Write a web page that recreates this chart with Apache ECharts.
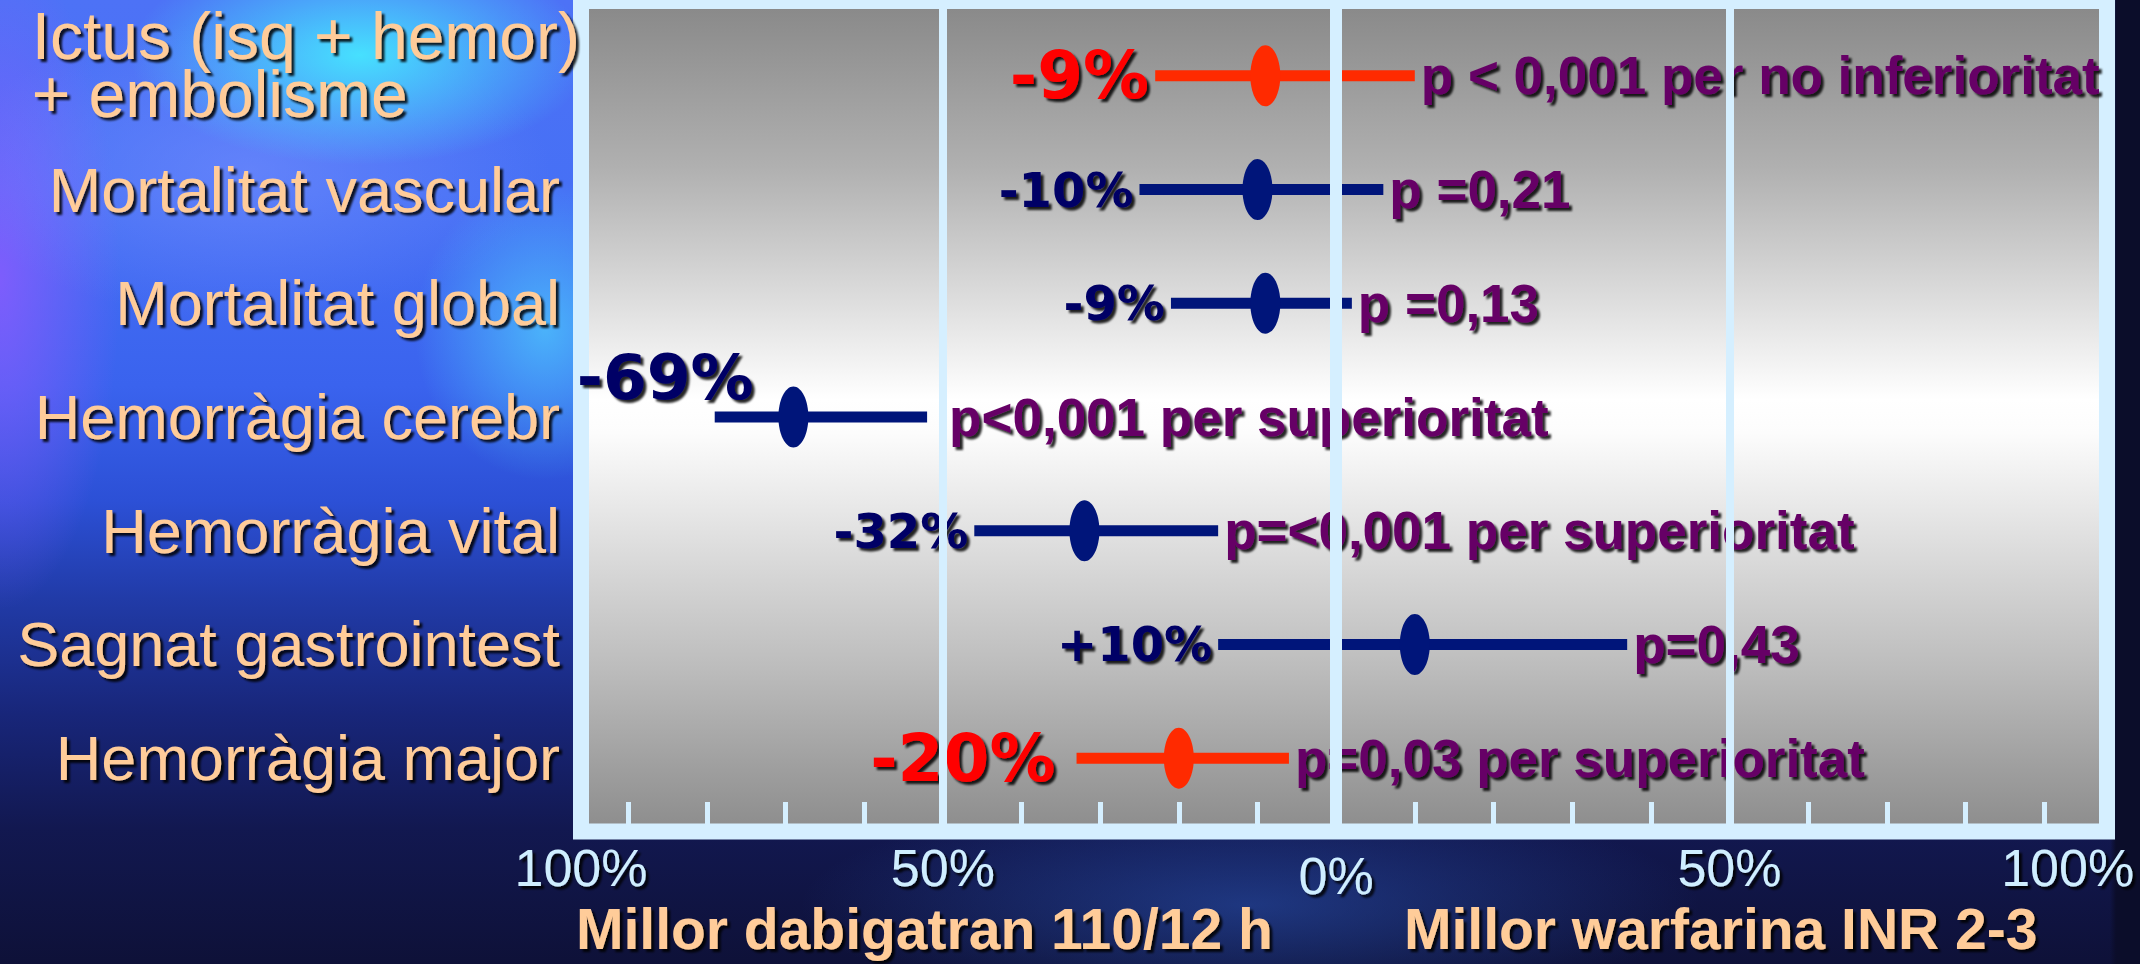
<!DOCTYPE html>
<html>
<head>
<meta charset="utf-8">
<title>Dabigatran 110/12 h vs warfarina</title>
<script src="https://cdn.jsdelivr.net/npm/echarts@6/dist/echarts.min.js"></script>
<style>
  html, body { margin: 0; padding: 0; background: #0c0f2e; }
  #chart {
    width: 2140px;
    height: 964px;
    background:
      linear-gradient(90deg, rgba(11,13,42,0) 2110px, #0b0d2a 2116px),
      radial-gradient(ellipse 230px 110px at 360px 55px, rgba(70,230,255,0.95), rgba(70,230,255,0)),
      radial-gradient(ellipse 130px 150px at 545px 330px, rgba(80,210,255,0.7), rgba(80,210,255,0)),
      radial-gradient(ellipse 300px 150px at 250px 170px, rgba(120,145,255,0.55), rgba(120,145,255,0)),
      radial-gradient(ellipse 120px 330px at 0px 280px, rgba(140,90,255,0.8), rgba(140,90,255,0)),
      radial-gradient(ellipse 450px 110px at 1250px 905px, rgba(45,90,190,0.5), rgba(45,90,190,0)),
      linear-gradient(180deg, #4d72f6 0%, #4670f5 20%, #3a63ee 40%, #2c50d6 52%, #213ba8 62%, #18267a 74%, #121850 86%, #0e1138 100%);
  }
</style>
</head>
<body>
<div id="chart"></div>
<script>
// Outcomes, listed top to bottom
const categories = [
  'Ictus (isq + hemor)\n+ embolisme',
  'Mortalitat vascular',
  'Mortalitat global',
  'Hemorràgia cerebr',
  'Hemorràgia vital',
  'Sagnat gastrointest',
  'Hemorràgia major'
];
// Relative change in risk (%), dabigatran 110/12 h vs warfarina; negative favours dabigatran
const change = [-9, -10, -9, -69, -32, 10, -20];
// Confidence interval bounds (%)
const ciLow = [-23, -25, -21, -79, -46, -15, -33];
const ciHigh = [10, 6, 2, -52, -15, 37, -6];
const pValues = [
  'p < 0,001 per no inferioritat',
  'p =0,21',
  'p =0,13',
  'p<0,001 per superioritat',
  'p=<0,001 per superioritat',
  'p=0,43',
  'p=0,03 per superioritat'
];
// Main efficacy / safety endpoints, highlighted
const primary = [true, false, false, false, false, false, true];

// Horizontal scale
const axisMin = -96;
const axisMax = 98;
const scaleLabelAt = [-96, -50, 0, 50, 93];
const tickLabels = ['100%', '50%', '0%', '50%', '100%'];
const minorTicks = [-90, -80, -70, -60, -40, -30, -20, -10, 10, 20, 30, 40, 60, 70, 80, 90];
const referenceLines = [-50, 0, 50];

// ---- styling ----
const frameColor = '#d5efff';
const shadow = { textShadowColor: 'rgba(0,0,0,0.85)', textShadowOffsetX: 3, textShadowOffsetY: 3, textShadowBlur: 2 };
const labelNudge = {
  3: { pctDx: 39, pctDy: -40, pctSize: 63, pDx: 22 },
  6: { pctDx: -21 }
};

function formatChange(v) {
  return (v > 0 ? '+' : '') + v + '%';
}

function renderRow(params, api) {
  const row = api.value(0);
  const est = api.value(1);
  const c = api.coord([est, row]);
  const a = api.coord([api.value(2), row]);
  const b = api.coord([api.value(3), row]);
  const key = primary[row];
  const markColor = key ? '#ff2a00' : '#00157a';
  const n = labelNudge[row] || {};
  const pctSize = n.pctSize || (key ? 66 : 48);
  return {
    type: 'group',
    children: [
      { type: 'line', shape: { x1: a[0], y1: a[1], x2: b[0], y2: b[1] },
        style: { stroke: markColor, lineWidth: 11 } },
      { type: 'ellipse', shape: { cx: c[0], cy: c[1], rx: 15, ry: 30.5 },
        style: { fill: markColor } },
      { type: 'text', x: a[0] + (n.pctDx != null ? n.pctDx : -6), y: a[1] + (n.pctDy || 0),
        style: Object.assign({ text: formatChange(est), align: 'right', verticalAlign: 'middle',
          fill: key ? '#ff0000' : '#000066', font: 'bold ' + pctSize + 'px "DejaVu Sans"' }, shadow) },
      { type: 'text', x: b[0] + (n.pDx || 6), y: b[1],
        style: Object.assign({ text: pValues[row], align: 'left', verticalAlign: 'middle',
          fill: '#660066', font: 'bold 53px "Liberation Sans"' }, shadow) }
    ]
  };
}

const yData = categories.map((name, i) => i === 0
  ? { value: name, textStyle: { padding: [0, 0, 22, 0] } }
  : name);

const titleStyle = Object.assign({ color: '#ffcc99', fontSize: 57, fontWeight: 'bold',
  fontFamily: 'Liberation Sans', lineHeight: 48 }, shadow);

const chart = echarts.init(document.getElementById('chart'), null, { renderer: 'svg', width: 2140, height: 964 });

chart.setOption({
  animation: false,
  title: [
    { text: 'Millor dabigatran 110/12 h', left: 571, top: 900, textStyle: titleStyle },
    { text: 'Millor warfarina INR 2-3', left: 1399, top: 900, textStyle: titleStyle }
  ],
  grid: [
    { left: 581, right: 33, top: 1, bottom: 132.5, show: true, outerBoundsMode: 'none',
      backgroundColor: { type: 'linear', x: 0, y: 0, x2: 0, y2: 1, colorStops: [
        { offset: 0, color: '#888888' },
        { offset: 0.2, color: '#b0b0b0' },
        { offset: 0.48, color: '#ffffff' },
        { offset: 0.52, color: '#fcfcfc' },
        { offset: 0.8, color: '#bdbdbd' },
        { offset: 1, color: '#8c8c8c' } ] },
      borderColor: frameColor, borderWidth: 16 },
    { left: 581, right: 33, top: 19, bottom: 149, outerBoundsMode: 'none' }
  ],
  xAxis: [
    { gridIndex: 0, type: 'value', min: axisMin, max: axisMax, offset: -7.5,
      axisLine: { show: false }, splitLine: { show: false },
      axisTick: { show: true, inside: true, length: 22, customValues: minorTicks,
        lineStyle: { color: frameColor, width: 5 } },
      axisLabel: Object.assign({
        customValues: scaleLabelAt, margin: 18, color: '#cfeeff', fontSize: 52, fontFamily: 'Liberation Sans',
        formatter: v => {
          const t = tickLabels[scaleLabelAt.indexOf(v)];
          return v === 0 ? '{z|' + t + '}' : t;
        },
        rich: { z: Object.assign({ color: '#cfeeff', fontSize: 52, fontFamily: 'Liberation Sans', padding: [8, 0, 0, 0] }, shadow) }
      }, shadow) },
    { gridIndex: 1, type: 'value', min: axisMin, max: axisMax, show: false }
  ],
  yAxis: [
    { gridIndex: 1, type: 'category', data: yData, inverse: true,
      axisLine: { show: false }, axisTick: { show: false }, splitLine: { show: false },
      axisLabel: Object.assign({
        interval: 0, margin: 1, padding: [0, 20, 0, 0],
        color: '#ffcc99', fontSize: 63, fontFamily: 'Liberation Sans',
        formatter: (value, idx) => idx === 0
          ? value.split('\n').map((s, k) => '{' + (k ? 'b' : 'a') + '|' + s + '}').join('\n')
          : value,
        rich: {
          a: Object.assign({ color: '#ffcc99', fontSize: 66, fontFamily: 'Liberation Sans', lineHeight: 58, align: 'right' }, shadow),
          b: Object.assign({ color: '#ffcc99', fontSize: 66, fontFamily: 'Liberation Sans', lineHeight: 58, align: 'left' }, shadow)
        }
      }, shadow) },
    { gridIndex: 0, type: 'value', min: 0, max: 1, show: false }
  ],
  series: [
    { type: 'custom', xAxisIndex: 1, yAxisIndex: 0, z: 3,
      encode: { x: [1, 2, 3], y: 0 },
      data: change.map((v, i) => [i, v, ciLow[i], ciHigh[i]]),
      renderItem: renderRow },
    { type: 'line', xAxisIndex: 0, yAxisIndex: 1, data: [], symbol: 'none', silent: true,
      markLine: { silent: true, symbol: ['none', 'none'], label: { show: false }, animation: false,
        lineStyle: { color: frameColor, type: 'solid', opacity: 1 },
        data: referenceLines.map(v => ({ xAxis: v, lineStyle: { width: v === 0 ? 12 : 8, color: frameColor, type: 'solid' } })) } }
  ]
});
</script>
</body>
</html>
